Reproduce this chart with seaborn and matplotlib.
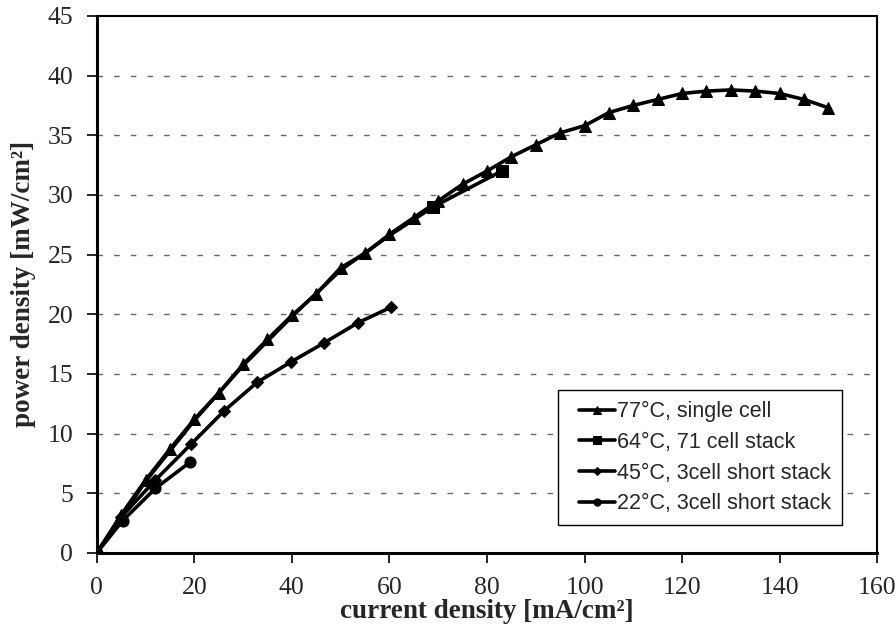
import pandas as pd
import seaborn as sns
import matplotlib.pyplot as plt
from matplotlib.lines import Line2D
from matplotlib.legend_handler import HandlerLine2D

# 77°C, single cell
cell77_x = [0, 5, 10, 15, 20, 25, 30, 35, 40, 45, 50, 55, 60, 65, 70, 75, 80, 85,
            90, 95, 100, 105, 110, 115, 120, 125, 130, 135, 140, 145, 150]
cell77_y = [0, 3.2, 6.1, 8.7, 11.2, 13.4, 15.8, 17.9, 19.9, 21.7, 23.9, 25.1, 26.7, 28.1, 29.5, 30.9,
            32.0, 33.2, 34.2, 35.2, 35.8, 36.9, 37.5, 38.0, 38.5, 38.7, 38.8, 38.7, 38.5, 38.0, 37.3]

# 64°C, 71 cell stack (only the last two points carry markers)
stack71_x = [0, 10, 20, 30, 40, 50, 60, 69, 83]
stack71_y = [0, 6.0, 11.1, 15.7, 19.8, 23.7, 26.6, 29.0, 32.0]

# 45°C, 3cell short stack
stack45_x = [0, 5, 12, 19.3, 26.1, 32.9, 39.8, 46.6, 53.6, 60.4]
stack45_y = [0, 3.0, 6.1, 9.1, 11.9, 14.3, 16.0, 17.6, 19.3, 20.6]

# 22°C, 3cell short stack
stack22_x = [0, 5.3, 12, 19.1]
stack22_y = [0, 2.7, 5.4, 7.6]

labels = ['77°C, single cell', '64°C, 71 cell stack',
          '45°C, 3cell short stack', '22°C, 3cell short stack']

x_ticks = list(range(0, 161, 20))
y_ticks = list(range(0, 46, 5))

sns.set_style("white")
plt.rcParams['font.family'] = ['Liberation Serif', 'DejaVu Serif']
plt.rcParams['xtick.labelsize'] = 18.5
plt.rcParams['ytick.labelsize'] = 18.5

fig = plt.figure(figsize=(8.96, 6.37), dpi=100)
ax = fig.add_axes([0.108, 0.132, 0.871, 0.843])

series = [
    (cell77_x, cell77_y, '^', 9, None),
    (stack71_x, stack71_y, 's', 9, [7, 8]),
    (stack45_x, stack45_y, 'D', 6.5, None),
    (stack22_x, stack22_y, 'o', 8, None),
]
for (xs, ys, mk, ms, every), lab in zip(series, labels):
    df = pd.DataFrame({'x': xs, 'y': ys})
    kw = {}
    if every is not None:
        kw['markevery'] = every
    sns.lineplot(data=df, x='x', y='y', ax=ax, color='black', linewidth=2.6,
                 marker=mk, markersize=ms, markeredgecolor='black',
                 sort=False, estimator=None, label=lab, **kw)

ax.set_xlim(0, 160)
ax.set_ylim(0, 45)
ax.set_xticks(x_ticks)
ax.set_yticks(y_ticks)

for yv in y_ticks[1:-1]:
    ax.axhline(yv, color='#666666', linestyle=(0, (4, 8)), linewidth=1.0, zorder=0)

for side in ['left', 'bottom']:
    ax.spines[side].set_linewidth(2.2)
for side in ['top', 'right']:
    ax.spines[side].set_linewidth(1.5)
for s in ax.spines.values():
    s.set_color('black')

ax.tick_params(axis='both', direction='out', length=7, width=1.2, color='black',
               bottom=True, left=True, pad=10)

ax.set_xlabel('current density [mA/cm²]', fontweight='bold', fontsize=19.5, labelpad=0)
ax.set_ylabel('power density [mW/cm²]', fontweight='bold', fontsize=19.5, labelpad=8)

leg = ax.legend(loc='lower right', bbox_to_anchor=(0.955, 0.052), frameon=True,
                fancybox=False, edgecolor='black', framealpha=1, fontsize=15.5,
                handlelength=2.15, handletextpad=0.1, borderpad=0.5, labelspacing=0.45,
                borderaxespad=0, markerscale=0.65,
                handler_map={Line2D: HandlerLine2D(xpad=0.45)})
leg.get_frame().set_linewidth(1.0)
# legend text in a sans face, set on the text objects only
for t in leg.get_texts():
    t.set_fontfamily(['Liberation Sans', 'DejaVu Sans'])

plt.savefig('out.png', dpi=100)
